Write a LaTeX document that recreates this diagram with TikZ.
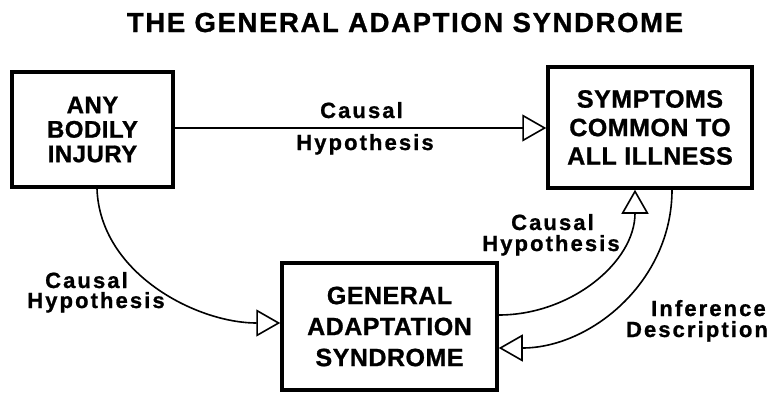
\documentclass[tikz,border=0pt]{standalone}
\usepackage{fontspec}
\newfontface\boxface{Liberation Sans Bold}[LetterSpace=2,FakeBold=1]
\newfontface\lblface{Liberation Sans Bold}[LetterSpace=9.5,FakeBold=1]
\newfontface\titleface{Liberation Sans Bold}[LetterSpace=6,FakeBold=1]
\usetikzlibrary{arrows.meta}
\begin{document}
\begin{tikzpicture}[x=1pt,y=-1pt,
  box/.style={draw,line width=3.5pt,align=center,inner sep=0pt},
  lbl/.style={font=\lblface\fontsize{22}{26}\selectfont,anchor=base,inner sep=0pt},
  arr/.style={line width=1.6pt,-{Triangle[open,length=24pt,width=27pt,line width=1.6pt]}}]
\useasboundingbox (0,0) rectangle (780,397);
\node[font=\titleface\fontsize{27.5}{30}\selectfont,anchor=base,inner sep=0pt] (title) at (405,32) {THE GENERAL ADAPTION SYNDROME};
\node[box,minimum width=161pt,minimum height=115pt,font=\boxface\fontsize{24}{24.5}\selectfont] (injury) at (92.5,129.5) {ANY\\BODILY\\INJURY};
\node[box,minimum width=204pt,minimum height=121pt,font=\boxface\fontsize{25}{28.5}\selectfont] (symp) at (650,127.5) {SYMPTOMS\\COMMON TO\\ALL ILLNESS};
\node[box,minimum width=215pt,minimum height=127pt,font=\boxface\fontsize{25}{31}\selectfont] (gas) at (389.5,326.5) {GENERAL\\ADAPTATION\\SYNDROME};
\coordinate (h) at (0,128);
\draw[arr] (injury.east |- h) -- (symp.west |- h);
\coordinate (a1) at (97,0);
\coordinate (a2) at (0,323);
\draw[arr] (injury.south -| a1) to[out=-88,in=180,looseness=0.95] (gas.west |- a2);
\coordinate (b1) at (0,315);
\coordinate (b2) at (635,0);
\draw[arr] (gas.east |- b1) to[out=0,in=-90] (symp.south -| b2);
\coordinate (c1) at (672,0);
\coordinate (c2) at (0,348);
\draw[arr] (symp.south -| c1) to[out=-90,in=0] (gas.east |- c2);
\node[lbl] (l1a) at (361.5,118) {Causal};
\node[lbl] (l1b) at (365,150) {Hypothesis};
\node[lbl] (l2a) at (86.5,288) {Causal};
\node[lbl] (l2b) at (96,308) {Hypothesis};
\node[lbl] (l3a) at (552.5,230) {Causal};
\node[lbl] (l3b) at (551,251) {Hypothesis};
\node[lbl] (l4a) at (708.5,316) {Inference};
\node[lbl] (l4b) at (697,337) {Description};
\end{tikzpicture}
\end{document}
